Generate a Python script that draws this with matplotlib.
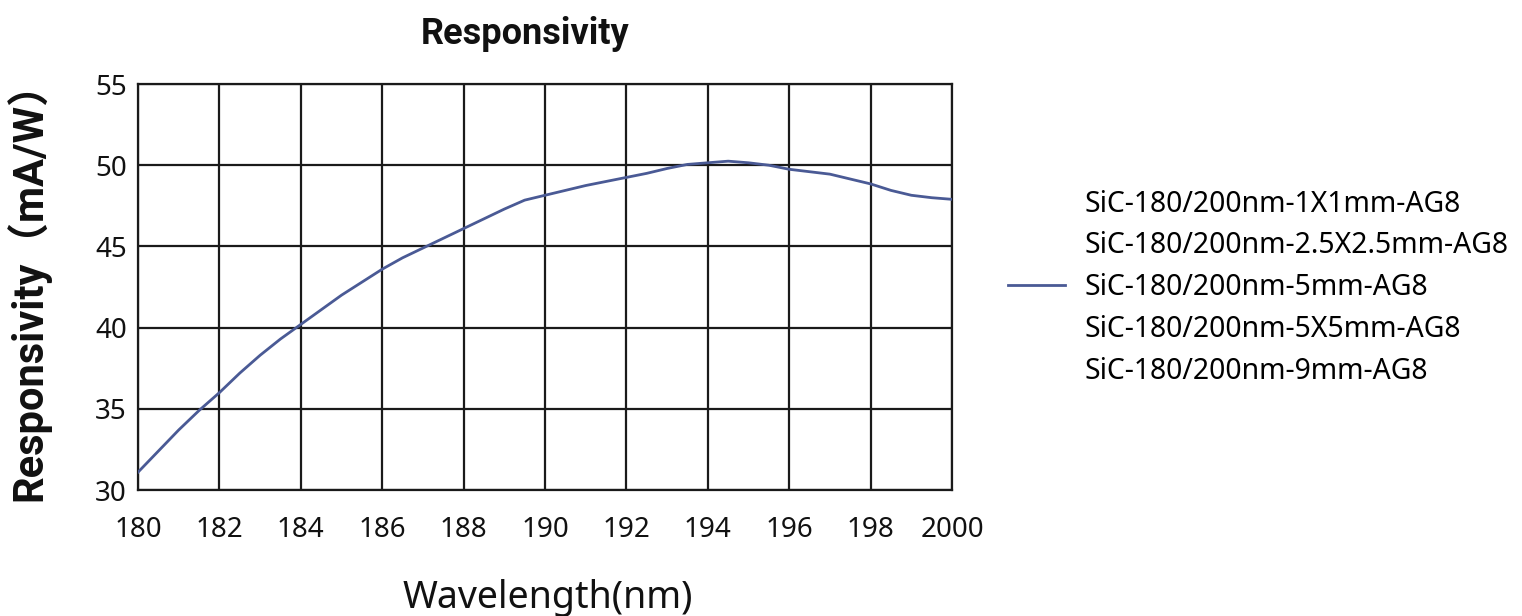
import matplotlib
matplotlib.use("Agg")
import matplotlib.pyplot as plt
from matplotlib.lines import Line2D

# Responsivity curve
wavelength = [180, 180.5, 181, 181.5, 182, 182.5, 183, 183.5, 184, 184.5,
              185, 185.5, 186, 186.5, 187, 187.5, 188, 188.5, 189, 189.5,
              190, 190.5, 191, 191.5, 192, 192.5, 193, 193.5, 194, 194.5,
              195, 195.5, 196, 196.5, 197, 197.5, 198, 198.5, 199, 199.5, 200]
responsivity = [31.1, 32.4, 33.7, 34.9, 36.0, 37.2, 38.3, 39.3, 40.2, 41.1,
                42.0, 42.8, 43.6, 44.3, 44.9, 45.5, 46.1, 46.7, 47.3, 47.85,
                48.15, 48.45, 48.75, 49.0, 49.25, 49.5, 49.8, 50.05, 50.15, 50.25,
                50.15, 50.0, 49.75, 49.6, 49.45, 49.15, 48.85, 48.45, 48.15, 48.0, 47.9]

xticks = [180, 182, 184, 186, 188, 190, 192, 194, 196, 198, 200]
xtick_labels = ["180", "182", "184", "186", "188", "190", "192", "194", "196", "198", "2000"]
yticks = [30, 35, 40, 45, 50, 55]

series_names = ["SiC-180/200nm-1X1mm-AG8",
                "SiC-180/200nm-2.5X2.5mm-AG8",
                "SiC-180/200nm-5mm-AG8",
                "SiC-180/200nm-5X5mm-AG8",
                "SiC-180/200nm-9mm-AG8"]
shown_series = 2  # only this one has a curve

plt.rcParams['font.family'] = ['Noto Sans', 'DejaVu Sans']

fig = plt.figure(figsize=(15.22, 6.16), dpi=100)
ax = fig.add_axes([0.0907, 0.2045, 0.5348, 0.6591])

line_color = "#4a5a95"
curve, = ax.plot(wavelength, responsivity, color=line_color, lw=2.0, zorder=3)

ax.set_xlim(180, 200)
ax.set_ylim(30, 55)
ax.set_xticks(xticks)
ax.set_xticklabels(xtick_labels)
ax.set_yticks(yticks)
ax.tick_params(axis='x', length=0, pad=19, labelsize=20, colors="#111111")
ax.tick_params(axis='y', length=0, pad=8, labelsize=20, colors="#111111")
ax.grid(True, color="#1a1a1a", lw=1.6)
for s in ax.spines.values():
    s.set_color("#1a1a1a")
    s.set_linewidth(1.6)

fig.text(0.345, 0.945, "Responsivity", ha="center", va="center",
         fontsize=26, fontweight="bold", color="#111111", family="Roboto")
fig.text(0.36, 0.03, "Wavelength(nm)", ha="center", va="center",
         fontsize=27, color="#111111")
fig.text(0.0184, 0.544, "Responsivity（mA/W）", ha="center", va="center", rotation=90,
         fontsize=30, fontweight="bold", color="#111111",
         family=['Roboto', 'Noto Sans CJK SC', 'DejaVu Sans'])

handles = []
for i, name in enumerate(series_names):
    if i == shown_series:
        handles.append(Line2D([], [], color=line_color, lw=2.0))
    else:
        handles.append(Line2D([], [], color="none"))
fig.legend(handles, series_names, loc="center left", bbox_to_anchor=(0.6455, 0.533),
           frameon=False, fontsize=20.4, handlelength=2.0, handletextpad=0.7,
           labelspacing=0.45)

fig.savefig("out.png", dpi=100)
